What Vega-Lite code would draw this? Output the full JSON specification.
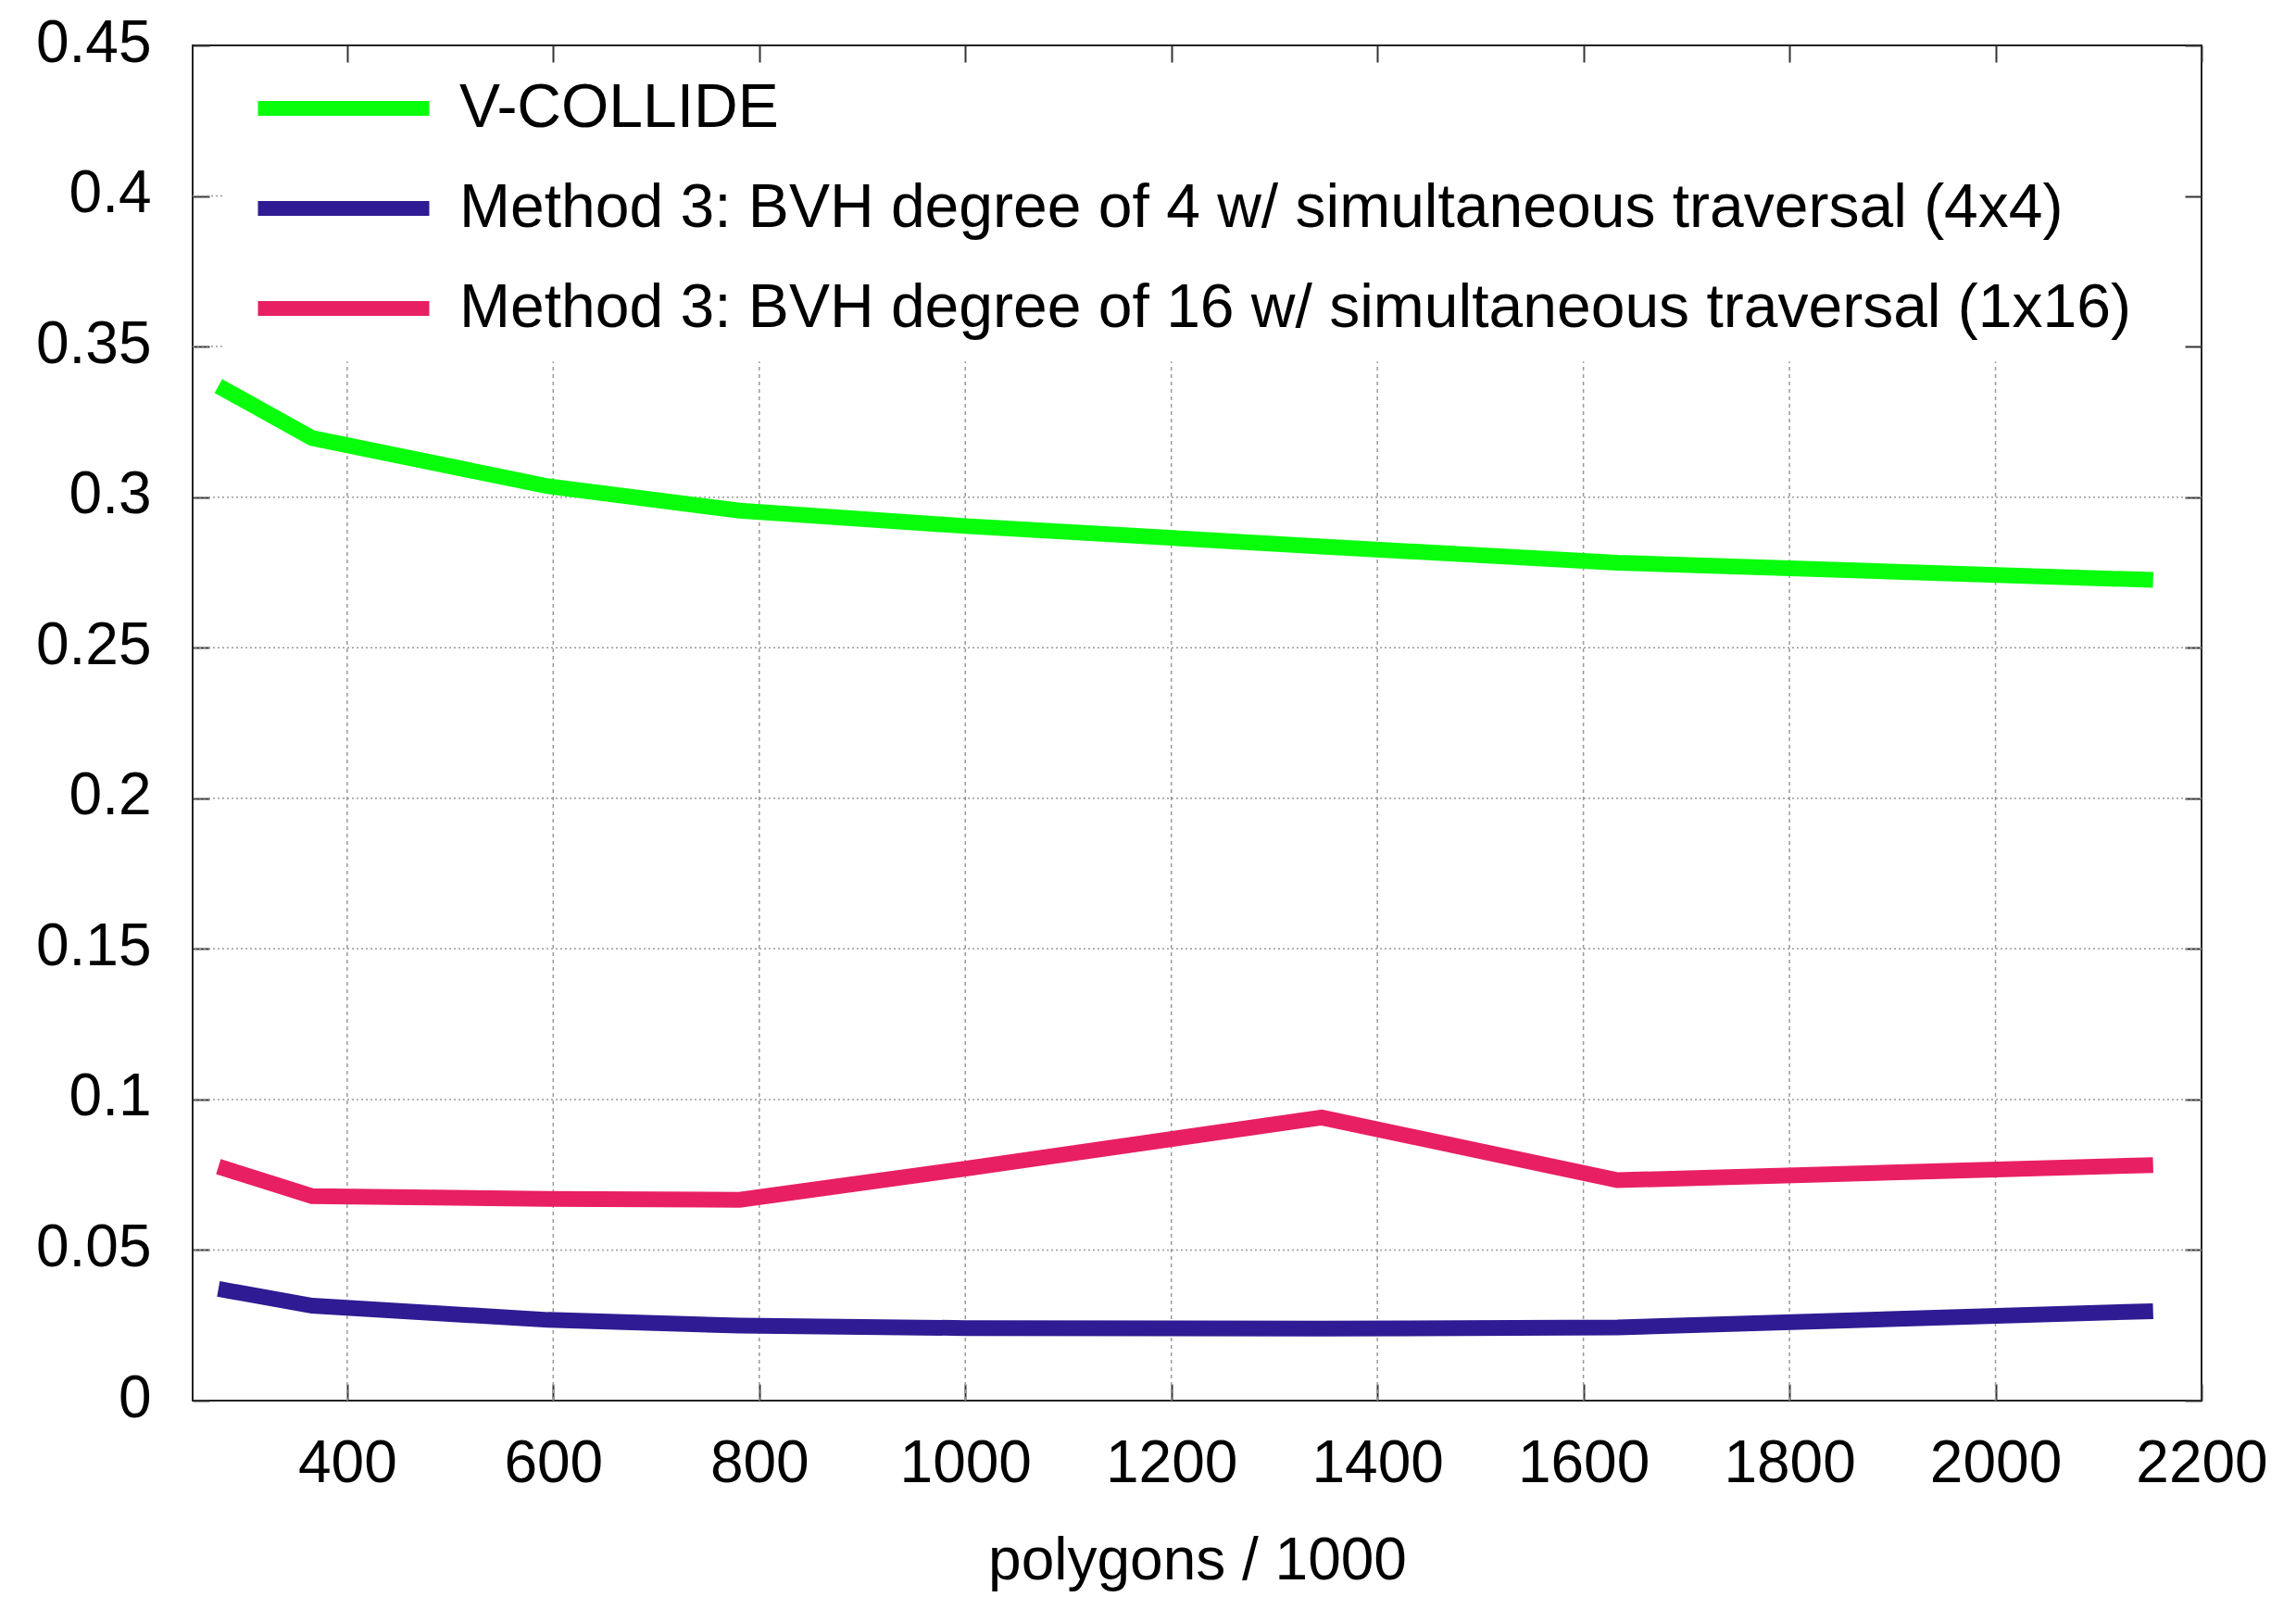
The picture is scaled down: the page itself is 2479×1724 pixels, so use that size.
{
  "$schema": "https://vega.github.io/schema/vega-lite/v6.json",
  "width": 2169,
  "height": 1463,
  "autosize": {"type": "none"},
  "padding": {"left": 208, "top": 49, "right": 102, "bottom": 212},
  "background": "white",
  "datasets": {
    "lines": [
      {"polygons": 275, "time": 0.3369, "series": "V-COLLIDE"},
      {"polygons": 366, "time": 0.3196, "series": "V-COLLIDE"},
      {"polygons": 595, "time": 0.3036, "series": "V-COLLIDE"},
      {"polygons": 781, "time": 0.2955, "series": "V-COLLIDE"},
      {"polygons": 1000, "time": 0.2904, "series": "V-COLLIDE"},
      {"polygons": 1346, "time": 0.2836, "series": "V-COLLIDE"},
      {"polygons": 1633, "time": 0.2782, "series": "V-COLLIDE"},
      {"polygons": 2153, "time": 0.2725, "series": "V-COLLIDE"},
      {"polygons": 275, "time": 0.0371, "series": "Method 3: BVH degree of 4 w/ simultaneous traversal (4x4)"},
      {"polygons": 366, "time": 0.0315, "series": "Method 3: BVH degree of 4 w/ simultaneous traversal (4x4)"},
      {"polygons": 595, "time": 0.0268, "series": "Method 3: BVH degree of 4 w/ simultaneous traversal (4x4)"},
      {"polygons": 781, "time": 0.0249, "series": "Method 3: BVH degree of 4 w/ simultaneous traversal (4x4)"},
      {"polygons": 1000, "time": 0.0241, "series": "Method 3: BVH degree of 4 w/ simultaneous traversal (4x4)"},
      {"polygons": 1346, "time": 0.0239, "series": "Method 3: BVH degree of 4 w/ simultaneous traversal (4x4)"},
      {"polygons": 1633, "time": 0.0243, "series": "Method 3: BVH degree of 4 w/ simultaneous traversal (4x4)"},
      {"polygons": 2153, "time": 0.0297, "series": "Method 3: BVH degree of 4 w/ simultaneous traversal (4x4)"},
      {"polygons": 275, "time": 0.0777, "series": "Method 3: BVH degree of 16 w/ simultaneous traversal (1x16)"},
      {"polygons": 366, "time": 0.0679, "series": "Method 3: BVH degree of 16 w/ simultaneous traversal (1x16)"},
      {"polygons": 595, "time": 0.0670, "series": "Method 3: BVH degree of 16 w/ simultaneous traversal (1x16)"},
      {"polygons": 781, "time": 0.0667, "series": "Method 3: BVH degree of 16 w/ simultaneous traversal (1x16)"},
      {"polygons": 1000, "time": 0.0770, "series": "Method 3: BVH degree of 16 w/ simultaneous traversal (1x16)"},
      {"polygons": 1346, "time": 0.0940, "series": "Method 3: BVH degree of 16 w/ simultaneous traversal (1x16)"},
      {"polygons": 1633, "time": 0.0732, "series": "Method 3: BVH degree of 16 w/ simultaneous traversal (1x16)"},
      {"polygons": 2153, "time": 0.0782, "series": "Method 3: BVH degree of 16 w/ simultaneous traversal (1x16)"}
    ],
    "gridX": [{"g": 400}, {"g": 600}, {"g": 800}, {"g": 1000}, {"g": 1200}, {"g": 1400}, {"g": 1600}, {"g": 1800}, {"g": 2000}],
    "gridY": [{"g": 0.05}, {"g": 0.1}, {"g": 0.15}, {"g": 0.2}, {"g": 0.25}, {"g": 0.3}],
    "gridYShort": [{"g": 0.35}, {"g": 0.4}]
  },
  "resolve": {"axis": {"x": "independent", "y": "independent"}},
  "layer": [
    {
      "data": {"name": "gridX"},
      "mark": {"type": "rule", "color": "#9a9a9a", "strokeWidth": 1.5, "strokeDash": [4, 4]},
      "encoding": {
        "x": {"field": "g", "type": "quantitative", "axis": null, "scale": {"domain": [250, 2200], "nice": false, "zero": false}},
        "y": {"datum": 0, "type": "quantitative", "axis": null, "scale": {"domain": [0, 0.45], "nice": false}},
        "y2": {"datum": 0.345}
      }
    },
    {
      "data": {"name": "gridY"},
      "mark": {"type": "rule", "color": "#9a9a9a", "strokeWidth": 1.5, "strokeDash": [2, 3]},
      "encoding": {
        "y": {"field": "g", "type": "quantitative", "axis": null, "scale": {"domain": [0, 0.45], "nice": false}}
      }
    },
    {
      "data": {"name": "gridYShort"},
      "mark": {"type": "rule", "color": "#9a9a9a", "strokeWidth": 1.5, "strokeDash": [2, 3]},
      "encoding": {
        "y": {"field": "g", "type": "quantitative", "axis": null, "scale": {"domain": [0, 0.45], "nice": false}},
        "x": {"datum": 250, "type": "quantitative", "axis": null, "scale": {"domain": [250, 2200], "nice": false, "zero": false}},
        "x2": {"datum": 281}
      }
    },
    {
      "data": {"name": "lines"},
      "mark": {"type": "line", "strokeWidth": 17, "strokeJoin": "miter", "strokeCap": "butt"},
      "encoding": {
        "x": {
          "field": "polygons", "type": "quantitative",
          "scale": {"domain": [250, 2200], "nice": false, "zero": false},
          "axis": {"orient": "bottom", "values": [400, 600, 800, 1000, 1200, 1400, 1600, 1800, 2000, 2200], "format": "d", "title": "polygons / 1000", "labelBaseline": "alphabetic", "labelPadding": 105, "titleY": 192, "titleBaseline": "alphabetic"}
        },
        "y": {
          "field": "time", "type": "quantitative",
          "scale": {"domain": [0, 0.45], "nice": false},
          "axis": {"orient": "left", "values": [0, 0.05, 0.1, 0.15, 0.2, 0.25, 0.3, 0.35, 0.4, 0.45], "format": "~g", "title": null, "labelPadding": 63, "labelOffset": -2}
        },
        "color": {
          "field": "series", "type": "nominal",
          "scale": {
            "domain": ["V-COLLIDE", "Method 3: BVH degree of 4 w/ simultaneous traversal (4x4)", "Method 3: BVH degree of 16 w/ simultaneous traversal (1x16)"],
            "range": ["#07ff0b", "#2f1b93", "#e91f63"]
          },
          "legend": {
            "orient": "none", "legendX": 130, "legendY": 35, "title": null,
            "symbolType": "M-4.78,0H4.78", "symbolSize": 1498, "symbolStrokeWidth": 16,
            "labelFontSize": 66, "labelFont": "Liberation Sans", "labelColor": "#000", "labelLimit": 0,
            "labelOffset": 92, "rowPadding": 42, "padding": 0, "fillColor": null, "strokeColor": null,
            "symbolOpacity": 1
          }
        }
      }
    },
    {
      "data": {"name": "lines"},
      "mark": {"type": "point", "opacity": 0},
      "encoding": {
        "x": {
          "field": "polygons", "type": "quantitative",
          "scale": {"domain": [250, 2200], "nice": false, "zero": false},
          "axis": {"orient": "top", "values": [400, 600, 800, 1000, 1200, 1400, 1600, 1800, 2000, 2200], "labels": false, "title": null}
        },
        "y": {
          "field": "time", "type": "quantitative",
          "scale": {"domain": [0, 0.45], "nice": false},
          "axis": {"orient": "right", "values": [0, 0.05, 0.1, 0.15, 0.2, 0.25, 0.3, 0.35, 0.4, 0.45], "labels": false, "title": null}
        }
      }
    }
  ],
  "config": {
    "font": "Liberation Sans",
    "view": {"stroke": "#222222", "strokeWidth": 2},
    "axis": {
      "grid": false, "domain": false,
      "labelFont": "Liberation Sans", "labelFontSize": 64, "labelColor": "#000000",
      "labelFlush": false, "labelOverlap": false, "labelLimit": 0,
      "tickColor": "#333333", "tickWidth": 2, "tickSize": -18,
      "titleFont": "Liberation Sans", "titleFontSize": 64, "titleFontWeight": "normal", "titleColor": "#000000"
    }
  }
}
